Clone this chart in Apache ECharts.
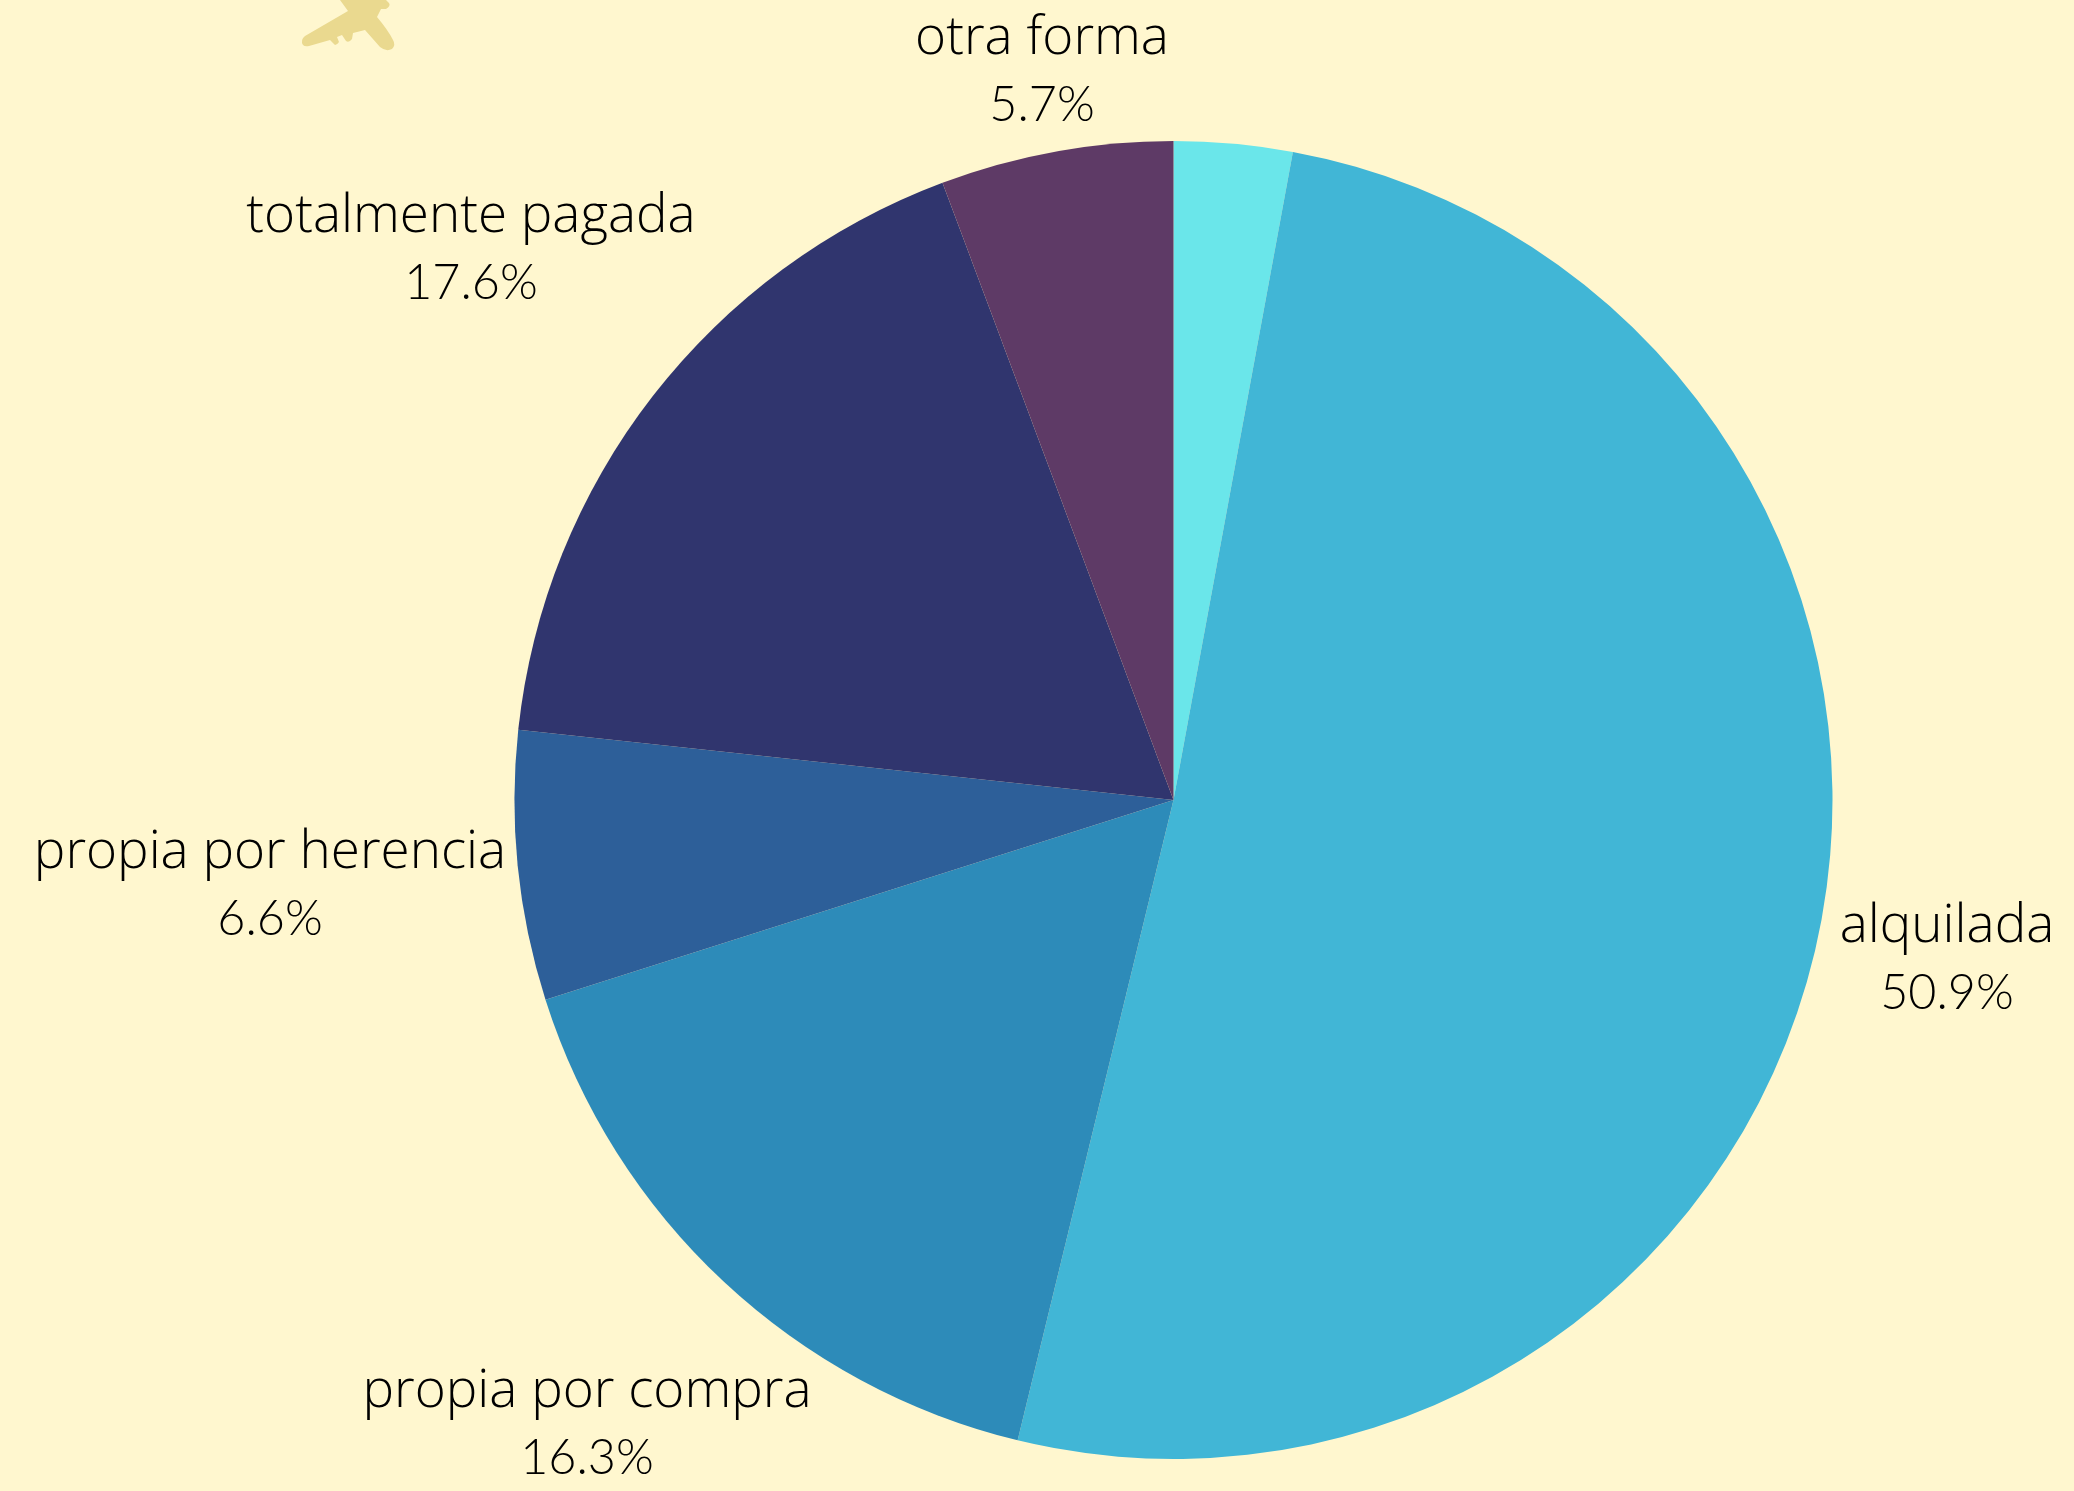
<!DOCTYPE html>
<html>
<head>
<meta charset="utf-8">
<style>
  html, body { margin: 0; padding: 0; background: #FFF7CF; }
  #chart { width: 2074px; height: 1491px; }
</style>
<script src="https://cdn.jsdelivr.net/npm/echarts@6/dist/echarts.min.js"></script>
</head>
<body>
<div id="chart"></div>
<script>
const names = ['', 'alquilada', 'propia por compra', 'propia por herencia', 'totalmente pagada', 'otra forma'];
const shares = [2.9, 50.9, 16.3, 6.6, 17.6, 5.7];
const colors = ['#6AE6EA', '#41B6D6', '#2D8BB9', '#2D5F99', '#30356E', '#5E3A66'];

// label centres in page pixels
const labelX = [0, 1947, 587, 270, 471, 1042];
const labelY = [0, 959, 1424, 885, 249, 71];

const planePath = 'M340 0 L348 11 L305 36 Q300 40 303 45 Q305 47 309 46 L330 40 L335 45 Q337 45 339 42 L337 37 L342 35 L346 41 Q349 43 352 39 L353 33 L365 30 L380 47 Q386 52 392 49 Q396 45 393 40 Q388 30 377 17 L381 9 L386 9 Q391 6 389 3 L386 0 Z';

const myChart = echarts.init(document.getElementById('chart'));
myChart.setOption({
    backgroundColor: '#FFF7CF',
    animation: false,
    color: colors,
    series: [{
        type: 'custom',
        coordinateSystem: 'none',
        silent: true,
        data: [0],
        renderItem: function () {
            return {
                type: 'path',
                shape: { pathData: planePath },
                style: { fill: '#EAD98F' }
            };
        }
    }, {
        type: 'pie',
        center: [1173.5, 800],
        radius: [0, 659],
        startAngle: 90,
        clockwise: true,
        avoidLabelOverlap: false,
        itemStyle: { borderWidth: 0 },
        label: {
            show: true,
            position: 'outside',
            color: '#000',
            align: 'center',
            formatter: function (p) {
                return p.name ? '{n|' + p.name + '}\n{v|' + p.value.toFixed(1) + '%}' : '';
            },
            rich: {
                n: { fontFamily: 'Open Sans', fontWeight: 300, fontSize: 53, lineHeight: 68, color: '#000' },
                v: { fontFamily: 'Lato', fontWeight: 300, fontSize: 48.5, lineHeight: 64, color: '#000' }
            }
        },
        labelLine: { show: false },
        labelLayout: function (params) {
            return {
                x: labelX[params.dataIndex],
                y: labelY[params.dataIndex],
                align: 'center',
                verticalAlign: 'middle'
            };
        },
        data: names.map((n, i) => ({ name: n, value: shares[i] }))
    }]
});
window.addEventListener('resize', myChart.resize);
</script>
</body>
</html>
